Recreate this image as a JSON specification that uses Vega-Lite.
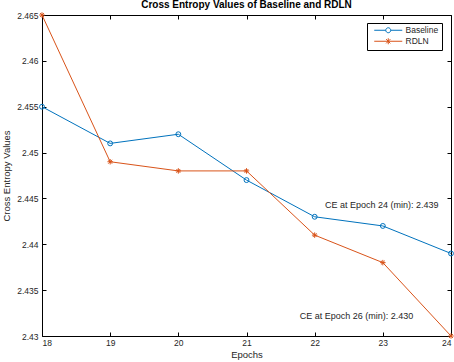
{
  "$schema": "https://vega.github.io/schema/vega-lite/v6.json",
  "width": 409,
  "height": 321,
  "autosize": "none",
  "padding": {"left": 42, "top": 15, "right": 3, "bottom": 26},
  "background": "white",
  "config": {
    "view": {"stroke": "black", "strokeWidth": 1},
    "font": "Liberation Sans",
    "axis": {
      "grid": false,
      "domainColor": "black",
      "tickColor": "black",
      "labelColor": "#262626",
      "titleColor": "#262626",
      "labelFont": "Liberation Sans",
      "titleFont": "Liberation Sans",
      "labelFontSize": 8.5,
      "titleFontSize": 9.5,
      "titleFontWeight": "normal"
    }
  },
  "title": {
    "text": "Cross Entropy Values of Baseline and RDLN",
    "fontSize": 10,
    "fontWeight": "bold",
    "font": "Liberation Sans",
    "color": "black",
    "offset": 0
  },
  "data": {
    "values": [
      {"series": "Baseline", "epoch": 18, "ce": 2.455},
      {"series": "Baseline", "epoch": 19, "ce": 2.451},
      {"series": "Baseline", "epoch": 20, "ce": 2.452},
      {"series": "Baseline", "epoch": 21, "ce": 2.447},
      {"series": "Baseline", "epoch": 22, "ce": 2.443},
      {"series": "Baseline", "epoch": 23, "ce": 2.442},
      {"series": "Baseline", "epoch": 24, "ce": 2.439},
      {"series": "RDLN", "epoch": 18, "ce": 2.465},
      {"series": "RDLN", "epoch": 19, "ce": 2.449},
      {"series": "RDLN", "epoch": 20, "ce": 2.448},
      {"series": "RDLN", "epoch": 21, "ce": 2.448},
      {"series": "RDLN", "epoch": 22, "ce": 2.441},
      {"series": "RDLN", "epoch": 23, "ce": 2.438},
      {"series": "RDLN", "epoch": 24, "ce": 2.430}
    ]
  },
  "layer": [
    {
      "mark": {"type": "line", "strokeWidth": 1, "clip": false},
      "encoding": {
        "x": {
          "field": "epoch", "type": "quantitative",
          "scale": {"domain": [18, 24], "nice": false, "zero": false},
          "axis": {"orient": "bottom", "values": [18, 19, 20, 21, 22, 23, 24], "format": "d", "tickSize": -4, "labelPadding": 6, "title": "Epochs", "titlePadding": 3, "domain": false}
        },
        "y": {
          "field": "ce", "type": "quantitative",
          "scale": {"domain": [2.43, 2.465], "nice": false, "zero": false},
          "axis": {"orient": "left", "values": [2.43, 2.435, 2.44, 2.445, 2.45, 2.455, 2.46, 2.465], "format": "~f", "tickSize": -4, "labelPadding": 8, "title": "Cross Entropy Values", "titlePadding": 5, "domain": false}
        },
        "color": {
          "field": "series", "type": "nominal",
          "scale": {"domain": ["Baseline", "RDLN"], "range": ["#0072BD", "#D95319"]},
          "legend": {
            "title": null,
            "orient": "none",
            "legendX": 325,
            "legendY": 8,
            "strokeColor": "black",
            "fillColor": "white",
            "padding": 3,
            "labelFontSize": 8.5,
            "labelColor": "#262626",
            "labelFont": "Liberation Sans",
            "labelExpr": "datum.label + '\u00a0\u00a0\u00a0\u00a0'",
            "symbolSize": 36,
            "symbolStrokeWidth": 1,
            "symbolOffset": 14,
            "labelOffset": 13,
            "rowPadding": 1,
            "encode": {
              "symbols": {
                "update": {
                  "shape": [
                    {"test": "datum.value === 'Baseline'", "value": "M-4.67,0H-0.83M0.83,0H4.67M-0.83,0A0.83,0.83 0 1,1 0.83,0A0.83,0.83 0 1,1 -0.83,0"},
                    {"value": "M-4.67,0H4.67M0,-1V1M-0.7,-0.7L0.7,0.7M-0.7,0.7L0.7,-0.7"}
                  ],
                  "fill": {"value": "transparent"}
                }
              }
            }
          }
        }
      }
    },
    {
      "transform": [{"filter": "datum.series === 'Baseline'"}],
      "mark": {"type": "point", "shape": "circle", "filled": false, "strokeWidth": 1, "size": 24, "opacity": 1, "color": "#0072BD", "clip": false},
      "encoding": {
        "x": {
          "field": "epoch", "type": "quantitative",
          "axis": {"orient": "top", "values": [18, 19, 20, 21, 22, 23, 24], "tickSize": -4, "labels": false, "title": null, "domain": false}
        },
        "y": {
          "field": "ce", "type": "quantitative",
          "axis": {"orient": "right", "values": [2.43, 2.435, 2.44, 2.445, 2.45, 2.455, 2.46, 2.465], "tickSize": -4, "labels": false, "title": null, "domain": false}
        }
      }
    },
    {
      "transform": [{"filter": "datum.series === 'RDLN'"}],
      "mark": {"type": "point", "shape": "M0,-1V1M-1,0H1M-0.7,-0.7L0.7,0.7M-0.7,0.7L0.7,-0.7", "filled": false, "strokeWidth": 1, "size": 30, "opacity": 1, "color": "#D95319", "clip": false},
      "encoding": {
        "x": {"field": "epoch", "type": "quantitative", "axis": null},
        "y": {"field": "ce", "type": "quantitative", "axis": null}
      }
    },
    {
      "data": {
        "values": [
          {"epoch": 22.15, "ce": 2.4443, "label": "CE at Epoch 24 (min): 2.439"},
          {"epoch": 21.78, "ce": 2.4322, "label": "CE at Epoch 26 (min): 2.430"}
        ]
      },
      "mark": {"type": "text", "align": "left", "baseline": "middle", "fontSize": 9, "font": "Liberation Sans", "color": "#262626"},
      "encoding": {
        "x": {"field": "epoch", "type": "quantitative", "axis": null},
        "y": {"field": "ce", "type": "quantitative", "axis": null},
        "text": {"field": "label"}
      }
    }
  ]
}
